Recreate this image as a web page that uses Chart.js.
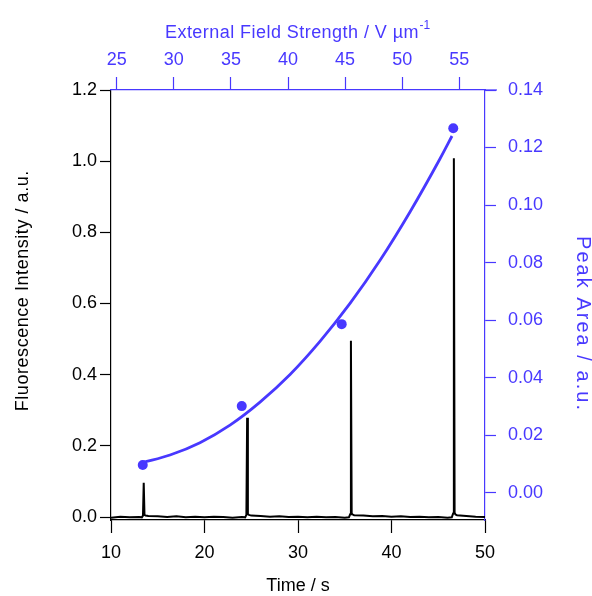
<!DOCTYPE html>
<html>
<head>
<meta charset="utf-8">
<script src="https://cdn.jsdelivr.net/npm/chart.js@4.4.1/dist/chart.umd.min.js"></script>
<style>
  html, body { margin: 0; padding: 0; background: #ffffff; }
  #wrap { width: 592px; height: 596px; }
</style>
</head>
<body>
<div id="wrap"><canvas id="chart" width="592" height="596"></canvas></div>
<script>
// Fluorescence trace (bottom / left axes)
const traceTime = [10, 11, 12, 13, 13.3, 13.42, 13.5, 13.58, 13.7, 14, 15, 16, 17, 18, 19, 20, 21, 22, 23, 24,
  24.35, 24.48, 24.56, 24.64, 24.75, 25, 26, 27, 28, 29, 30, 31, 32, 33, 34, 35,
  35.45, 35.58, 35.66, 35.74, 35.85, 36, 37, 38, 39, 40, 41, 42, 43, 44, 45, 46,
  46.45, 46.59, 46.67, 46.75, 46.85, 47, 48, 49, 50];
const traceIntensity = [-0.002, 0.001, -0.001, 0.000, -0.001, 0.004, 0.0964, 0.006, 0.004, 0.003, 0.002, 0.000, 0.002, -0.001, 0.001, -0.001, 0.001, 0.000, -0.002, 0.000,
  -0.001, 0.006, 0.279, 0.008, 0.006, 0.004, 0.003, 0.001, 0.002, 0.000, 0.001, -0.001, 0.001, -0.001, 0.000, -0.002,
  -0.001, 0.008, 0.4955, 0.010, 0.007, 0.005, 0.004, 0.002, 0.003, 0.001, 0.002, 0.000, 0.001, -0.001, 0.000, -0.002,
  -0.001, 0.010, 1.008, 0.012, 0.007, 0.005, 0.003, 0.001, 0.000];

// Peak areas versus external field (top / right axes)
const fieldStrength = [27.28, 35.95, 44.70, 54.47];
const peakArea = [0.0096, 0.0301, 0.0586, 0.1267];

// Fitted trend through the peak areas
const fitField = [27.30, 29.67, 32.29, 34.92, 37.55, 40.18, 42.80, 45.43, 48.06, 50.68, 53.31, 54.36];
const fitArea = [0.0105, 0.0131, 0.0174, 0.0235, 0.0315, 0.0411, 0.0526, 0.0658, 0.0808, 0.0976, 0.1161, 0.1240];

// Tick labels
const timeTicks = [10, 20, 30, 40, 50];
const intensityTicks = [0.0, 0.2, 0.4, 0.6, 0.8, 1.0, 1.2];
const fieldTicks = [25, 30, 35, 40, 45, 50, 55];
const areaTicks = [0.00, 0.02, 0.04, 0.06, 0.08, 0.10, 0.12, 0.14];

const BLUE = '#4838ff';
const BLACK = '#000000';
const FONT = '"Liberation Sans", Arial, Helvetica, sans-serif';

const toPoints = (xs, ys) => xs.map((x, i) => ({ x: x, y: ys[i] }));
const fixedTicks = values => scale => { scale.ticks = values.map(v => ({ value: v })); };

// Draws text spread out to a given overall length
function spreadText(ctx, text, x, y, length, align) {
  ctx.letterSpacing = '0px';
  const w = ctx.measureText(text).width;
  const gap = Math.max(0, (length - w) / text.length);
  ctx.letterSpacing = gap.toFixed(2) + 'px';
  const total = w + gap * (text.length - 1);
  let start = x;
  if (align === 'center') start = x - total / 2;
  ctx.textAlign = 'left';
  ctx.fillText(text, start, y);
  ctx.letterSpacing = '0px';
  return start + total;
}

// Axis titles, drawn by hand so the top one can carry a superscript
const axisTitles = {
  id: 'axisTitles',
  afterDraw(chart) {
    const ctx = chart.ctx;
    const area = chart.chartArea;
    ctx.save();
    ctx.font = '18px ' + FONT;
    ctx.textBaseline = 'alphabetic';

    // extension of the top axis line past the right axis
    ctx.strokeStyle = BLUE;
    ctx.lineWidth = 1.2;
    ctx.beginPath();
    ctx.moveTo(area.right, area.top);
    ctx.lineTo(area.right + 12, area.top);
    ctx.stroke();

    // bottom
    ctx.fillStyle = BLACK;
    ctx.textAlign = 'center';
    ctx.fillText('Time / s', (area.left + area.right) / 2, 591);

    // left
    ctx.save();
    ctx.translate(28, 291);
    ctx.rotate(-Math.PI / 2);
    spreadText(ctx, 'Fluorescence Intensity / a.u.', 0, 0, 241, 'center');
    ctx.restore();

    // right
    ctx.fillStyle = BLUE;
    ctx.font = '20px ' + FONT;
    ctx.save();
    ctx.translate(577, 323);
    ctx.rotate(Math.PI / 2);
    spreadText(ctx, 'Peak Area / a.u.', 0, 0, 176, 'center');
    ctx.restore();

    // top, with superscript
    ctx.font = '18px ' + FONT;
    const endX = spreadText(ctx, 'External Field Strength / V \u00b5m', 165, 38, 254, 'left');
    ctx.font = '12px ' + FONT;
    ctx.textAlign = 'left';
    ctx.fillText('-1', endX + 1, 29);
    ctx.restore();
  }
};

new Chart(document.getElementById('chart'), {
  data: {
    datasets: [
      {
        type: 'line',
        data: toPoints(traceTime, traceIntensity),
        xAxisID: 'x', yAxisID: 'y',
        borderColor: BLACK, borderWidth: 2,
        pointRadius: 0, tension: 0, order: 3
      },
      {
        type: 'line',
        data: toPoints(fitField, fitArea),
        xAxisID: 'xTop', yAxisID: 'yRight',
        borderColor: BLUE, borderWidth: 2.8,
        pointRadius: 0, cubicInterpolationMode: 'monotone', order: 2
      },
      {
        type: 'scatter',
        data: toPoints(fieldStrength, peakArea),
        xAxisID: 'xTop', yAxisID: 'yRight',
        backgroundColor: BLUE, borderWidth: 0,
        pointRadius: 5, order: 1
      }
    ]
  },
  options: {
    responsive: false,
    animation: false,
    events: [],
    layout: { padding: 0 },
    plugins: { legend: { display: false }, tooltip: { enabled: false } },
    scales: {
      x: {
        type: 'linear', position: 'bottom', min: 10, max: 50,
        afterBuildTicks: fixedTicks(timeTicks),
        afterFit: s => { s.height = 76; },
        border: { display: true, color: BLACK, width: 1.2 },
        grid: { drawOnChartArea: false, drawTicks: true, tickLength: 13, tickColor: BLACK, tickWidth: 1.2 },
        ticks: { color: BLACK, font: { family: FONT, size: 18 }, padding: 9, maxRotation: 0,
                 callback: v => String(v) }
      },
      y: {
        type: 'linear', position: 'left', min: -0.0084, max: 1.2,
        afterBuildTicks: fixedTicks(intensityTicks),
        afterFit: s => { s.width = 111; },
        border: { display: true, color: BLACK, width: 1.2 },
        grid: { drawOnChartArea: false, drawTicks: true, tickLength: 11, tickColor: BLACK, tickWidth: 1.2 },
        ticks: { color: BLACK, font: { family: FONT, size: 18 }, padding: 3,
                 callback: v => v.toFixed(1) }
      },
      xTop: {
        type: 'linear', position: 'top', min: 24.5, max: 57.25,
        afterBuildTicks: fixedTicks(fieldTicks),
        afterFit: s => { s.height = 90; },
        border: { display: true, color: BLUE, width: 1.2 },
        grid: { drawOnChartArea: false, drawTicks: true, tickLength: 13, tickColor: BLUE, tickWidth: 1.2 },
        ticks: { color: BLUE, font: { family: FONT, size: 18 }, padding: 6, maxRotation: 0,
                 callback: v => String(v) }
      },
      yRight: {
        type: 'linear', position: 'right', min: -0.0095, max: 0.14,
        afterBuildTicks: fixedTicks(areaTicks),
        afterFit: s => { s.width = 107; },
        border: { display: true, color: BLUE, width: 1.2 },
        grid: { drawOnChartArea: false, drawTicks: true, tickLength: 11, tickColor: BLUE, tickWidth: 1.2 },
        ticks: { color: BLUE, font: { family: FONT, size: 18 }, padding: 12,
                 callback: v => v.toFixed(2) }
      }
    }
  },
  plugins: [axisTitles]
});
</script>
</body>
</html>
